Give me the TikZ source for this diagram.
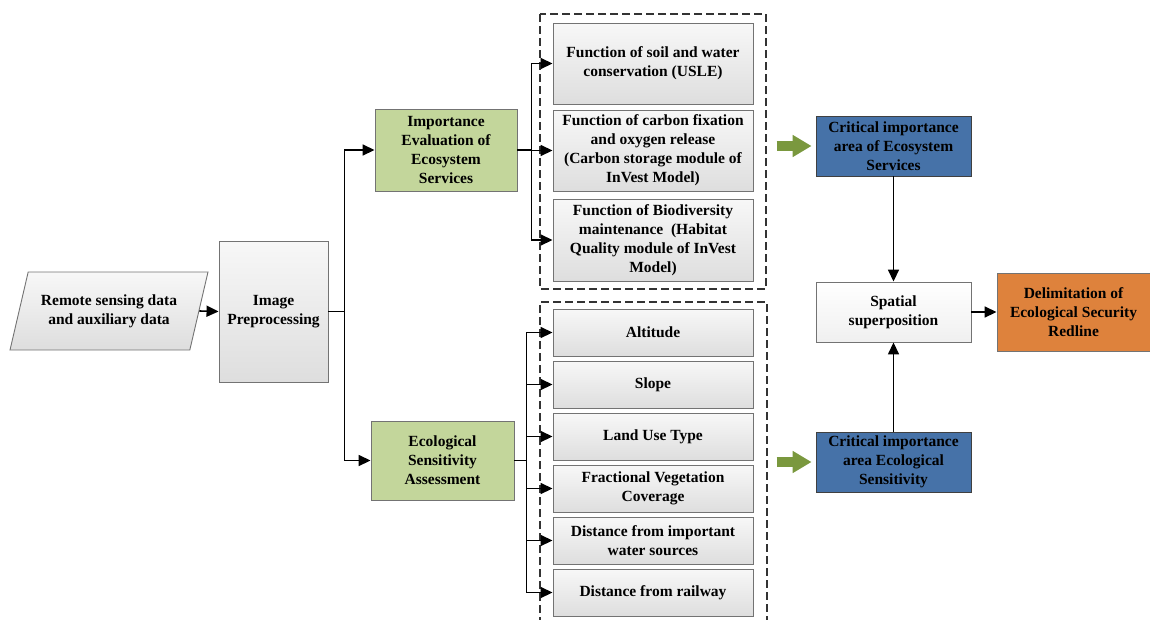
\documentclass[tikz,border=0pt]{standalone}
\usepackage{fontspec}
\setmainfont{Liberation Serif}
\usetikzlibrary{arrows.meta,shapes.geometric}

\definecolor{esgreen}{RGB}{195,214,155}
\definecolor{esblue}{RGB}{70,114,168}
\definecolor{esorange}{RGB}{222,130,60}
\definecolor{arrgreen}{RGB}{122,152,62}

\tikzset{
  box/.style={draw=black!55, line width=0.9pt, align=center, inner sep=2pt,
    font=\fontsize{15.5}{19}\selectfont\bfseries},
  graybox/.style={box, top color=black!3, bottom color=black!13},
  greenbox/.style={box, fill=esgreen},
  bluebox/.style={box, fill=esblue, draw=black!75},
  orangebox/.style={box, fill=esorange},
  arr/.style={line width=1.6pt, -{Triangle[length=12pt,width=11pt]}},
  garr/.style={line width=10pt, draw=arrgreen, -{Triangle[length=19pt,width=21pt]}},
  dashbox/.style={draw=black!80, line width=1.1pt, dash pattern=on 8pt off 4pt}
}

\begin{document}
\begin{tikzpicture}[x=1pt,y=-1pt]
\useasboundingbox (0,0) rectangle (1150,619);

% input and preprocessing
\node[graybox, trapezium, trapezium left angle=67, trapezium right angle=113,
  trapezium stretches=true, minimum width=198pt, minimum height=78pt] (rs) at (109,311)
  {Remote sensing data\\and auxiliary data};
\node[graybox, minimum width=109pt, minimum height=141pt] (ip) at (273.5,311.5) {Image\\Preprocessing};

\node[greenbox, minimum width=142pt, minimum height=82pt] (ies) at (446,150)
  {Importance\\Evaluation of\\Ecosystem\\Services};
\node[greenbox, minimum width=143pt, minimum height=79pt] (esa) at (442.5,460.5)
  {Ecological\\Sensitivity\\Assessment};

% dashed groups
\draw[dashbox] (540,14) rectangle (766,289);
\draw[dashbox] (540,625) -- (540,302) -- (767,302) -- (767,625);

% ecosystem service functions
\node[graybox, minimum width=200pt, minimum height=81pt] (f1) at (653,63.5)
  {Function of soil and water\\conservation (USLE)};
\node[graybox, minimum width=200pt, minimum height=81pt] (f2) at (653,150.5)
  {Function of carbon fixation\\and oxygen release\\(Carbon storage module of\\InVest Model)};
\node[graybox, minimum width=200pt, minimum height=82pt] (f3) at (653,240)
  {Function of Biodiversity\\maintenance~ (Habitat\\Quality module of InVest\\Model)};

% sensitivity factors
\foreach \t [count=\i] in {Altitude, Slope, Land Use Type,
    {Fractional Vegetation\\Coverage}, {Distance from important\\water sources},
    Distance from railway}
  \node[graybox, minimum width=200pt, minimum height=47pt] (s\i) at (653,280.5+52*\i) {\t};

% results
\node[bluebox, minimum width=155pt, minimum height=60pt] (cr1) at (893.5,146)
  {Critical importance\\area of Ecosystem\\Services};
\node[graybox, top color=white, bottom color=black!6, minimum width=155pt, minimum height=60pt] (sp) at (893.5,312)
  {Spatial\\superposition};
\node[bluebox, minimum width=155pt, minimum height=60pt] (cr2) at (893.5,462)
  {Critical importance\\area Ecological\\Sensitivity};
\node[orangebox, minimum width=153pt, minimum height=78pt] (dl) at (1073.5,312)
  {Delimitation of\\Ecological Security\\Redline};

% connectors
\draw[arr] (rs.east) -- (ip.west);
\draw[arr] (ip.east) -- ++(16,0) |- (ies.west);
\draw[arr] (ip.east) -- ++(16,0) |- (esa.west);
\foreach \n in {f1,f2,f3}
  \draw[arr] (ies.east) -- ++(14,0) |- (\n.west);
\foreach \i in {1,...,6}
  \draw[arr] (esa.east) -- ++(12,0) |- (s\i.west);

\draw[garr] ([xshift=-39pt]cr1.west) -- ([xshift=-4pt]cr1.west);
\draw[garr] ([xshift=-39pt]cr2.west) -- ([xshift=-4pt]cr2.west);

\draw[arr] (cr1.south) -- (sp.north);
\draw[arr] (cr2.north) -- (sp.south);
\draw[arr] (sp.east) -- (dl.west);

\end{tikzpicture}
\end{document}
